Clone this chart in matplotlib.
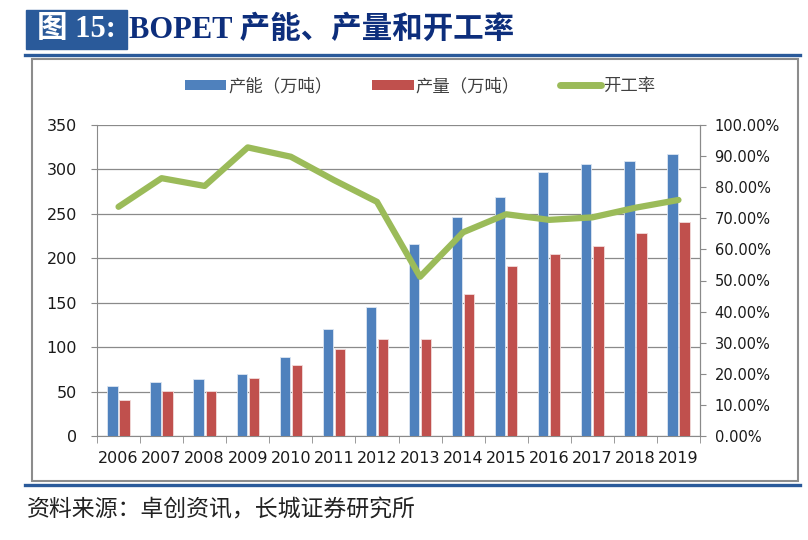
import numpy as np
import matplotlib.pyplot as plt
from matplotlib.patches import Rectangle, Patch
from matplotlib.lines import Line2D
from matplotlib.ticker import FuncFormatter

plt.rcParams['font.family'] = ['DejaVu Sans', 'Noto Sans CJK SC']

years = ['2006', '2007', '2008', '2009', '2010', '2011', '2012',
         '2013', '2014', '2015', '2016', '2017', '2018', '2019']
capacity = [56, 61, 64, 70, 89, 120, 145, 216, 246, 269, 297, 306, 310, 317]
output = [41, 51, 51, 65, 80, 98, 109, 109, 160, 191, 205, 214, 228, 241]
utilization = [0.737, 0.829, 0.804, 0.928, 0.898, 0.823, 0.753,
               0.512, 0.655, 0.713, 0.695, 0.703, 0.734, 0.759]

blue = '#4F81BD'
red = '#C0504D'
green = '#9BBB59'
navy = '#2A5A9A'

fig = plt.figure(figsize=(8.08, 5.40), dpi=100)

# header / footer decorations
fig.patches.append(Rectangle((26/808, 1-49/540), 101/808, 39/540,
                             transform=fig.transFigure, color=navy, zorder=0))
fig.text(76/808, 1-30/540, '图 15:', color='white', fontsize=22, fontweight='bold',
         family=['Liberation Serif', 'Noto Sans CJK SC'], ha='center', va='center')
fig.text(129/808, 1-30/540, 'BOPET 产能、产量和开工率', color='#0D2E7C', fontsize=22,
         fontweight='bold', family=['Liberation Serif', 'Noto Sans CJK SC'],
         ha='left', va='center')
fig.add_artist(Line2D([25/808, 800/808], [1-54.5/540, 1-54.5/540],
                      transform=fig.transFigure, color=navy, lw=2.4))
fig.add_artist(Line2D([25/808, 800/808], [1-484.5/540, 1-484.5/540],
                      transform=fig.transFigure, color=navy, lw=2.4))
fig.patches.append(Rectangle((32/808, 1-481/540), 766/808, 422/540,
                             transform=fig.transFigure, fill=False,
                             edgecolor='#8C8C8C', lw=1.5))
fig.text(27/808, 1-510/540, '资料来源：卓创资讯，长城证券研究所', fontsize=16.5,
         family=['Noto Sans CJK SC'], color='#222222', ha='left', va='center')

ax = fig.add_axes([97/808, 1-436/540, 603/808, 311/540])
x = np.arange(len(years))
w = 0.24
ax.bar(x - 0.14, capacity, w, color=blue, edgecolor='#DCE6F2', lw=0.6, zorder=3)
ax.bar(x + 0.14, output, w, color=red, edgecolor='#F2DCDB', lw=0.6, zorder=3)

ax.set_xlim(-0.5, len(years) - 0.5)
ax.set_ylim(0, 350)
ax.set_yticks(range(0, 351, 50))
ax.yaxis.grid(True, color='#8A8A8A', lw=0.9, zorder=0)
ax.set_axisbelow(True)
ax.set_xticks(x)
ax.set_xticklabels(years, fontsize=11.5, color='#1a1a1a')
ax.set_xticks(np.arange(-0.5, len(years)), minor=True)
ax.tick_params(axis='x', which='major', length=0, pad=11)
ax.tick_params(axis='x', which='minor', length=5, color='#8A8A8A')
ax.tick_params(axis='y', length=4.5, color='#8A8A8A', labelsize=11.5,
               labelcolor='#1a1a1a', pad=10)
ax.spines['top'].set_visible(False)
for s in ['left', 'bottom', 'right']:
    ax.spines[s].set_color('#8A8A8A')

ax2 = ax.twinx()
ax2.plot(x, utilization, color=green, lw=4.5, solid_capstyle='round',
         solid_joinstyle='round', zorder=5)
ax2.set_ylim(0, 1)
ax2.set_yticks(np.arange(0, 1.01, 0.1))
ax2.yaxis.set_major_formatter(FuncFormatter(lambda v, p: '%.2f%%' % (v * 100)))
ax2.tick_params(axis='y', length=4.5, color='#8A8A8A', labelsize=10.5,
                labelcolor='#1a1a1a', pad=6)
for s in ['top', 'left', 'bottom']:
    ax2.spines[s].set_visible(False)
ax2.spines['right'].set_color('#8A8A8A')

handles = [Patch(facecolor=blue, label='产能（万吨）'),
           Patch(facecolor=red, label='产量（万吨）'),
           Line2D([], [], color=green, lw=5, solid_capstyle='round', label='开工率')]
fig.legend(handles=handles, loc='center', bbox_to_anchor=(420/808, 1-86/540),
           ncol=3, frameon=False, handlelength=2.4, handleheight=0.5,
           handletextpad=0.1, columnspacing=2.3,
           prop={'family': ['Noto Sans CJK SC'], 'size': 12.5}, labelcolor='#404040')

fig.savefig('out.png', dpi=100)
